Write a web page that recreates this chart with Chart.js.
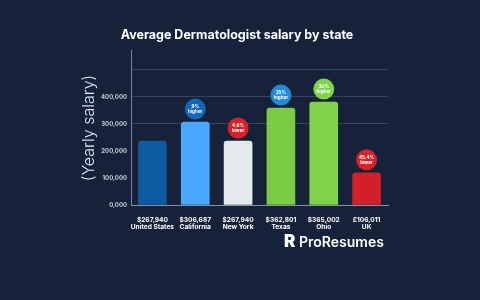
<!DOCTYPE html>
<html>
<head>
<meta charset="utf-8">
<script src="https://cdn.jsdelivr.net/npm/chart.js@4"></script>
<style>
  html, body { margin: 0; padding: 0; background: #16213a; }
  #wrap { width: 480px; height: 300px; }
</style>
</head>
<body>
<div id="wrap"><canvas id="chart" width="480" height="300"></canvas></div>
<script>
const states = ["United States", "California", "New York", "Texas", "Ohio", "UK"];
const salaryLabels = ["$267,940", "$306,687", "$267,940", "$362,801", "$365,002", "£106,011"];
const barValues = [237000, 307000, 237000, 359000, 381000, 119000];
const badgeTop = ["", "9%", "4.6%", "35%", "30%", "45.4%"];
const badgeBottom = ["", "higher", "lower", "higher", "higher", "lower"];
const yTicks = [0, 100000, 200000, 300000, 400000, 500000];
const yTickLabels = ["0,000", "100,000", "200,000", "300,000", "400,000", ""];

const barColors = ["#0d5aa0", "#4aa8ff", "#e4e9ee", "#7ccb45", "#7fd44a", "#d2202a"];
const badgeColors = ["", "#1467b4", "#d6222b", "#238bd6", "#7fd44a", "#d6222b"];
const FONT = "Inter, 'Open Sans', sans-serif";

// title, axis title, badges, logo
const extras = {
  id: "extras",
  beforeDraw(chart) {
    const ctx = chart.ctx;
    ctx.save();
    ctx.fillStyle = "#16213a";
    ctx.fillRect(0, 0, chart.width, chart.height);
    ctx.restore();
  },
  afterDraw(chart) {
    const ctx = chart.ctx;
    ctx.save();
    ctx.fillStyle = "#ffffff";
    ctx.textAlign = "center";
    ctx.textBaseline = "middle";
    ctx.font = "bold 12.5px " + FONT;
    ctx.fillText("Average Dermatologist salary by state", 237, 35);

    // y title
    ctx.save();
    ctx.translate(89, 128);
    ctx.rotate(-Math.PI / 2);
    ctx.font = "300 16px " + FONT;
    ctx.fillStyle = "#e8ebf0";
    ctx.fillText("(Yearly salary)", 0, 0);
    ctx.restore();

    // badges
    const meta = chart.getDatasetMeta(0);
    meta.data.forEach((el, i) => {
      if (!badgeTop[i]) return;
      const cy = el.y - 13;
      ctx.beginPath();
      ctx.arc(el.x, cy, 10.5, 0, Math.PI * 2);
      ctx.fillStyle = badgeColors[i];
      ctx.fill();
      ctx.fillStyle = "#ffffff";
      ctx.font = "bold 4.6px " + FONT;
      ctx.fillText(badgeTop[i], el.x, cy - 2.6);
      ctx.fillText(badgeBottom[i], el.x, cy + 2.8);
    });

    // logo
    ctx.textAlign = "left";
    ctx.font = "900 17px " + FONT;
    ctx.fillText("R", 284, 242);
    ctx.font = "600 14px " + FONT;
    ctx.fillText("ProResumes", 299, 243);
    ctx.restore();
  }
};

new Chart(document.getElementById("chart"), {
  type: "bar",
  data: {
    labels: states.map((s, i) => [salaryLabels[i], s]),
    datasets: [{
      data: barValues,
      backgroundColor: barColors,
      borderRadius: 3,
      borderSkipped: "start",
      barThickness: 28
    }]
  },
  options: {
    responsive: false,
    animation: false,
    layout: { padding: { left: 0, right: 92, top: 50, bottom: 0 } },
    plugins: { legend: { display: false }, tooltip: { enabled: false } },
    scales: {
      x: {
        afterFit: (s) => { s.height = 95; },
        grid: { display: false },
        border: { color: "#8a93a3", width: 1 },
        ticks: {
          color: "#ffffff",
          padding: 3,
          maxRotation: 0,
          minRotation: 0,
          autoSkip: false,
          font: { family: FONT, size: 6.6, weight: "bold", lineHeight: 1.15 }
        }
      },
      y: {
        min: 0,
        max: 574000,
        afterFit: (s) => { s.width = 131; },
        afterBuildTicks: (s) => { s.ticks = yTicks.map(v => ({ value: v })); },
        border: { color: "#7b8496", width: 1 },
        grid: {
          drawTicks: false,
          color: (c) => c.tick && c.tick.value >= 300000 ? "#35435c" : "rgba(0,0,0,0)"
        },
        ticks: {
          padding: 4,
          color: "#c9ced8",
          font: { family: FONT, size: 6, weight: "bold" },
          callback: (v) => yTickLabels[yTicks.indexOf(v)]
        }
      }
    }
  },
  plugins: [extras]
});
</script>
</body>
</html>
